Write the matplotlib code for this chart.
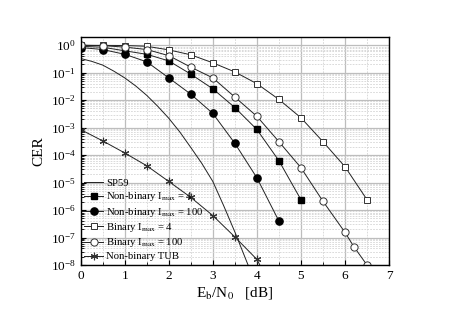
import matplotlib
matplotlib.use("Agg")
import matplotlib.pyplot as plt
from matplotlib.ticker import LogLocator, MultipleLocator, NullFormatter

plt.rcParams['font.family'] = ['Liberation Serif', 'DejaVu Serif']
plt.rcParams['mathtext.fontset'] = 'stix'

# ---- data ----
sp59_x = [0, 0.25, 0.5, 0.75, 1.0, 1.25, 1.5, 1.75, 2.0, 2.25, 2.5, 2.75, 3.0, 3.25, 3.5, 3.8]
sp59_y = [0.33, 0.26, 0.19, 0.115, 0.065, 0.033, 0.015, 6.0e-3, 2.2e-3, 7.0e-4,
          1.9e-4, 5.0e-5, 1.1e-5, 1.4e-6, 1.6e-7, 1.0e-8]

nb4_x = [0, 0.5, 1.0, 1.5, 2.0, 2.5, 3.0, 3.5, 4.0, 4.5, 5.0]
nb4_y = [0.92, 0.85, 0.63, 0.47, 0.27, 0.089, 0.026, 5.4e-3, 8.6e-4, 6.3e-5, 2.4e-6]

nb100_x = [0, 0.5, 1.0, 1.5, 2.0, 2.5, 3.0, 3.5, 4.0, 4.5]
nb100_y = [0.83, 0.70, 0.47, 0.25, 0.065, 0.0166, 3.3e-3, 2.7e-4, 1.5e-5, 4.0e-7]

b4_x = [0, 0.5, 1.0, 1.5, 2.0, 2.5, 3.0, 3.5, 4.0, 4.5, 5.0, 5.5, 6.0, 6.5]
b4_y = [1.0, 0.99, 0.98, 0.92, 0.68, 0.45, 0.23, 0.107, 0.04, 0.0107, 2.3e-3, 3.1e-4, 3.8e-5, 2.4e-6]

b100_x = [0, 0.5, 1.0, 1.5, 2.0, 2.5, 3.0, 3.5, 4.0, 4.5, 5.0, 5.5, 6.0, 6.2, 6.5]
b100_y = [1.0, 0.97, 0.86, 0.70, 0.42, 0.16, 0.065, 0.013, 2.6e-3, 3.1e-4, 3.5e-5,
          2.1e-6, 1.55e-7, 4.7e-8, 1.0e-8]

tub_x = [0, 0.5, 1.0, 1.5, 2.0, 2.5, 3.0, 3.5, 4.0, 4.5]
tub_y = [8.5e-4, 3.3e-4, 1.2e-4, 4.1e-5, 1.1e-5, 2.9e-6, 6.3e-7, 1.05e-7, 1.6e-8, 5e-10]

labels = ["SP59",
          r"Non-binary I$_{\mathrm{max}}$ = 4",
          r"Non-binary I$_{\mathrm{max}}$ = 100",
          r"Binary I$_{\mathrm{max}}$ = 4",
          r"Binary I$_{\mathrm{max}}$ = 100",
          "Non-binary TUB"]

fig = plt.figure(figsize=(4.52, 3.18), dpi=100)
ax = fig.add_axes([0.1785, 0.1667, 0.6821, 0.7169])

lc = '#222222'
lw = 0.7
ms = 4.8
ax.plot(sp59_x, sp59_y, '-', color=lc, lw=lw, label=labels[0])
ax.plot(nb4_x, nb4_y, '-', color=lc, lw=lw, marker='s', ms=ms - 0.4,
        mfc='black', mec='black', label=labels[1])
ax.plot(nb100_x, nb100_y, '-', color=lc, lw=lw, marker='o', ms=ms + 0.4,
        mfc='black', mec='black', label=labels[2])
ax.plot(b4_x, b4_y, '-', color=lc, lw=lw, marker='s', ms=ms - 0.4,
        mfc='white', mec='#333333', mew=0.7, label=labels[3])
ax.plot(b100_x, b100_y, '-', color=lc, lw=lw, marker='o', ms=ms + 0.4,
        mfc='white', mec='#333333', mew=0.7, label=labels[4])
ax.plot(tub_x, tub_y, '-', color=lc, lw=lw, marker=(6, 2, 0), ms=ms + 0.6,
        mec='#333333', mew=0.8, label=labels[5])

ax.set_yscale('log')
ax.set_xlim(0, 7)
ax.set_ylim(1e-8, 2.0)
ax.xaxis.set_major_locator(MultipleLocator(1))
ax.xaxis.set_minor_locator(MultipleLocator(0.5))
ax.yaxis.set_major_locator(LogLocator(base=10, numticks=20))
ax.yaxis.set_minor_locator(LogLocator(base=10, subs=range(2, 10), numticks=20))
ax.yaxis.set_minor_formatter(NullFormatter())

ax.grid(True, which='major', color='#bdbdbd', lw=0.9, ls='-')
ax.grid(True, which='minor', color='#d4d4d4', lw=0.6, ls=(0, (2, 1.5)))
ax.set_axisbelow(True)

ax.tick_params(which='both', direction='in', top=False, right=False, labelsize=9.5)
ax.tick_params(which='major', length=3.5, width=0.8)
ax.tick_params(which='minor', length=2, width=0.6)
for s in ax.spines.values():
    s.set_linewidth(1.0)

ax.set_ylabel("CER", fontsize=11, labelpad=4)
ax.set_xlabel(r"E$_{\mathrm{b}}$/N$_{0}$   [dB]", fontsize=11, labelpad=2)

leg = ax.legend(loc='lower left', frameon=False, fontsize=7.7, handlelength=1.7,
                handletextpad=0.3, labelspacing=0.22, borderaxespad=0.1,
                borderpad=0.25)

fig.savefig("out.png", dpi=100)
